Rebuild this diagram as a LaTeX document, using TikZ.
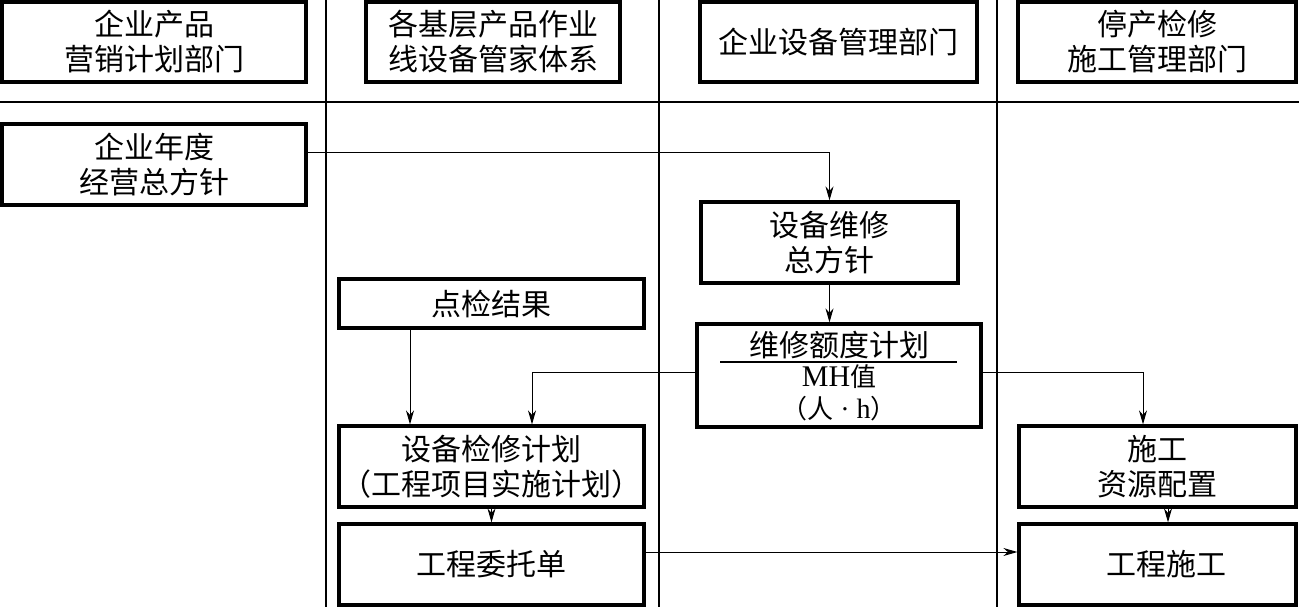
\documentclass[tikz,border=0pt]{standalone}
\usepackage{fontspec}
\setmainfont{Liberation Serif}
\newfontfamily\cjk{Noto Sans CJK SC}
\usetikzlibrary{arrows.meta}
\begin{document}
\begin{tikzpicture}[x=1pt,y=-1pt,
  box/.style={draw,line width=3.2pt,rectangle,inner sep=0pt,align=center,
    font=\cjk\fontsize{30pt}{35pt}\selectfont},
  lbl/.style={inner sep=0pt,font=\cjk\fontsize{30pt}{35pt}\selectfont},
  sml/.style={inner sep=0pt,text height=19pt,text depth=3pt,font=\cjk\fontsize{26pt}{28pt}\selectfont},
  lane/.style={line width=1.2pt},
  arr/.style={line width=1pt,-{Stealth[length=14pt,width=8pt,inset=4.5pt]}}]
\useasboundingbox (0,0) rectangle (1299,607);
% lanes
\draw[lane] (326,0) -- (326,607);
\draw[lane] (659,0) -- (659,607);
\draw[lane] (997,0) -- (997,607);
\draw[line width=1.5pt] (0,102) -- (1299,102);
% headers
\node[box,minimum width=304pt,minimum height=80pt] (h1) at (154,42) {企业产品\\营销计划部门};
\node[box,minimum width=254pt,minimum height=80pt] (h2) at (493,42) {各基层产品作业\\线设备管家体系};
\node[box,minimum width=277pt,minimum height=80pt] (h3) at (838.5,42) {企业设备管理部门};
\node[box,minimum width=278pt,minimum height=80pt] (h4) at (1157,42) {停产检修\\施工管理部门};
% boxes
\node[box,minimum width=304pt,minimum height=81pt] (A) at (154,164.5) {企业年度\\经营总方针};
\node[box,minimum width=257pt,minimum height=81pt] (B) at (829.5,242.5) {设备维修\\总方针};
\node[box,minimum width=305pt,minimum height=49pt] (C) at (491.5,303.5) {点检结果};
\node[box,minimum width=284pt,minimum height=103pt] (D) at (839,375.5) {};
\node[lbl] (D1) at (839,345) {维修额度计划};
\node[sml] (D2) at (839,378) {{\rmfamily\fontsize{30pt}{28pt}\selectfont MH}值};
\node[sml] (D3) at (839,410) {（人{\rmfamily\fontsize{28pt}{28pt}\selectfont\ ·\ h}）};
\draw[line width=1.6pt] (720,362) -- (957,362);
\node[box,minimum width=305pt,minimum height=81pt] (E) at (491.5,466.5) {设备检修计划\\（工程项目实施计划）};
\node[box,minimum width=305pt,minimum height=81pt] (F) at (491.5,564.5) {工程委托单};
\node[box,minimum width=277pt,minimum height=81pt] (G) at (1157.5,466.5) {施工\\资源配置};
\node[box,minimum width=277pt,minimum height=81pt] (H) at (1157.5,564.5) {\hspace{18pt}工程施工};
% connectors
\draw[arr] ([yshift=11.5pt]A.east) -| (B.north);
\draw[arr] (B.south) -- (B.south |- D.north);
\draw[arr] ([xshift=-81.5pt]C.south) -- ([xshift=-81.5pt]C.south |- E.north);
\draw[arr] ([yshift=3.5pt]D.west) -| ([xshift=40.5pt]E.north);
\draw[arr] ([yshift=3.5pt]D.east) -| ([xshift=-14.5pt]G.north);
\draw[arr] (E.south) -- (F.north);
\draw[arr] ([xshift=10.5pt]G.south) -- ([xshift=10.5pt]G.south |- H.north);
\draw[arr] ([yshift=12.5pt]F.east) -- ([yshift=12.5pt]F.east -| H.west);
\end{tikzpicture}
\end{document}
